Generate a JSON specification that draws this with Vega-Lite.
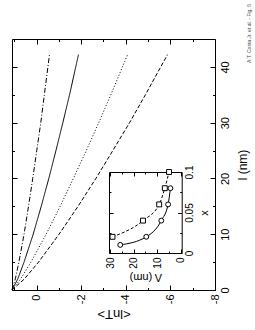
{
  "$schema": "https://vega.github.io/schema/vega-lite/v6.json",
  "width": 203,
  "height": 251,
  "autosize": "none",
  "padding": {"left": 12, "top": 39, "right": 40, "bottom": 40},
  "background": "white",
  "title": {"text": "A.T. Costa Jr. et al. - Fig. 5", "orient": "right", "anchor": "start", "angle": 270, "align": "left", "baseline": "middle", "frame": "group", "offset": -5, "dx": -24, "fontSize": 5, "fontWeight": "normal", "font": "Liberation Sans", "color": "#444"},
  "config": {
    "font": "Liberation Sans",
    "view": {"stroke": null},
    "axis": {"domainColor": "black", "tickColor": "black", "labelColor": "black", "titleColor": "black", "grid": false, "labelFlush": false, "labelOverlap": false, "labelBound": false, "titleFontWeight": "normal", "domainWidth": 1, "tickWidth": 1, "labelFont": "Liberation Sans", "titleFont": "Liberation Sans"}
  },
  "datasets": {
    "main": [
      {"s": "a", "l": 0, "lnT": 1.1}, {"s": "a", "l": 2, "lnT": 0.95}, {"s": "a", "l": 5, "lnT": 0.79}, {"s": "a", "l": 10, "lnT": 0.56}, {"s": "a", "l": 15, "lnT": 0.36}, {"s": "a", "l": 20, "lnT": 0.17}, {"s": "a", "l": 25, "lnT": -0.01}, {"s": "a", "l": 30, "lnT": -0.19}, {"s": "a", "l": 35, "lnT": -0.35}, {"s": "a", "l": 42.2, "lnT": -0.58},
      {"s": "b", "l": 0, "lnT": 1.1}, {"s": "b", "l": 2, "lnT": 0.84}, {"s": "b", "l": 5, "lnT": 0.56}, {"s": "b", "l": 10, "lnT": 0.15}, {"s": "b", "l": 15, "lnT": -0.21}, {"s": "b", "l": 20, "lnT": -0.55}, {"s": "b", "l": 25, "lnT": -0.87}, {"s": "b", "l": 30, "lnT": -1.18}, {"s": "b", "l": 35, "lnT": -1.48}, {"s": "b", "l": 42.2, "lnT": -1.88},
      {"s": "c", "l": 0, "lnT": 1.1}, {"s": "c", "l": 2, "lnT": 0.71}, {"s": "c", "l": 5, "lnT": 0.25}, {"s": "c", "l": 10, "lnT": -0.43}, {"s": "c", "l": 15, "lnT": -1.06}, {"s": "c", "l": 20, "lnT": -1.65}, {"s": "c", "l": 25, "lnT": -2.23}, {"s": "c", "l": 30, "lnT": -2.79}, {"s": "c", "l": 35, "lnT": -3.33}, {"s": "c", "l": 42.2, "lnT": -4.08},
      {"s": "d", "l": 0, "lnT": 1.1}, {"s": "d", "l": 2, "lnT": 0.54}, {"s": "d", "l": 5, "lnT": -0.09}, {"s": "d", "l": 10, "lnT": -1.01}, {"s": "d", "l": 15, "lnT": -1.86}, {"s": "d", "l": 20, "lnT": -2.66}, {"s": "d", "l": 25, "lnT": -3.42}, {"s": "d", "l": 30, "lnT": -4.17}, {"s": "d", "l": 35, "lnT": -4.88}, {"s": "d", "l": 42.2, "lnT": -5.87}
    ],
    "inset": [
      {"s": "circle", "lam": 25.7, "conc": 0.01}, {"s": "circle", "lam": 14.6, "conc": 0.02}, {"s": "circle", "lam": 8.2, "conc": 0.04}, {"s": "circle", "lam": 5.3, "conc": 0.06}, {"s": "circle", "lam": 4.3, "conc": 0.08},
      {"s": "square", "lam": 29, "conc": 0.02}, {"s": "square", "lam": 16, "conc": 0.04}, {"s": "square", "lam": 9.1, "conc": 0.06}, {"s": "square", "lam": 6.7, "conc": 0.08}, {"s": "square", "lam": 4.9, "conc": 0.1}
    ]
  },
  "resolve": {"scale": {"x": "independent", "y": "independent"}, "axis": {"x": "independent", "y": "independent"}},
  "layer": [
    {
      "data": {"name": "main"},
      "transform": [{"filter": "datum.s === 'a' || datum.s === 'b'"}],
      "mark": {"type": "line", "strokeWidth": 1, "color": "black"},
      "encoding": {
        "x": {"field": "lnT", "type": "quantitative", "scale": {"domain": [-8, 1.1], "reverse": true, "nice": false, "zero": false},
          "axis": {"orient": "bottom", "values": [-8, -7, -6, -5, -4, -3, -2, -1, 0, 1], "labelExpr": "datum.value % 2 === 0 ? '' + datum.value : ''", "labelAngle": 270, "labelAlign": "right", "labelBaseline": "middle", "labelFontSize": 11, "labelPadding": 9, "tickSize": {"condition": {"test": "datum.value % 2 === 0", "value": -5}, "value": -2.5}, "title": "<lnT>", "titleAngle": 180, "titleBaseline": "bottom", "titleFontSize": 13, "titlePadding": 3}},
        "y": {"field": "l", "type": "quantitative", "scale": {"domain": [0, 45], "nice": false, "zero": false},
          "axis": {"orient": "right", "values": [0, 5, 10, 15, 20, 25, 30, 35, 40], "labelExpr": "datum.value % 10 === 0 ? '' + datum.value : ''", "labelAngle": 270, "labelAlign": "center", "labelBaseline": "top", "labelFontSize": 11, "labelPadding": 9, "tickSize": {"condition": {"test": "datum.value % 10 === 0", "value": -5}, "value": -2.5}, "title": "l (nm)", "titleAngle": 270, "titleBaseline": "top", "titleFontSize": 12, "titlePadding": 5}},
        "strokeDash": {"field": "s", "type": "nominal", "scale": {"domain": ["a", "b", "c", "d"], "range": [[5, 2, 1, 2], [1, 0], [1, 2], [4, 2]]}, "legend": null},
        "order": {"field": "l", "type": "quantitative"}
      }
    },
    {
      "data": {"name": "main"},
      "transform": [{"filter": "datum.s === 'c' || datum.s === 'd'"}],
      "mark": {"type": "line", "strokeWidth": 1, "color": "black"},
      "encoding": {
        "x": {"field": "lnT", "type": "quantitative", "scale": {"domain": [-8, 1.1], "reverse": true, "nice": false, "zero": false},
          "axis": {"orient": "top", "values": [-8, -7, -6, -5, -4, -3, -2, -1, 0, 1], "labels": false, "title": null, "tickSize": {"condition": {"test": "datum.value % 2 === 0", "value": -5}, "value": -2.5}}},
        "y": {"field": "l", "type": "quantitative", "scale": {"domain": [0, 45], "nice": false, "zero": false},
          "axis": {"orient": "left", "values": [0, 5, 10, 15, 20, 25, 30, 35, 40], "labels": false, "title": null, "tickSize": {"condition": {"test": "datum.value % 10 === 0", "value": -5}, "value": -2.5}}},
        "strokeDash": {"field": "s", "type": "nominal", "scale": {"domain": ["a", "b", "c", "d"], "range": [[5, 2, 1, 2], [1, 0], [1, 2], [4, 2]]}, "legend": null},
        "order": {"field": "l", "type": "quantitative"}
      }
    },
    {
      "data": {"name": "inset"},
      "transform": [{"filter": "datum.s === 'circle'"}],
      "mark": {"type": "line", "strokeWidth": 1, "color": "black", "interpolate": "monotone"},
      "encoding": {
        "x": {"field": "lam", "type": "quantitative", "scale": {"domain": [-0.5, 30.5], "range": [169.7, 97], "nice": false, "zero": false},
          "axis": {"orient": "bottom", "offset": -37, "values": [0, 5, 10, 15, 20, 25, 30], "labelExpr": "datum.value % 10 === 0 ? '' + datum.value : ''", "labelAngle": 270, "labelAlign": "right", "labelBaseline": "middle", "labelFontSize": 10, "labelPadding": 8, "tickSize": {"condition": {"test": "datum.value % 10 === 0", "value": -4}, "value": -2}, "title": "Λ (nm)", "titleAngle": 180, "titleBaseline": "bottom", "titleFontSize": 11, "titlePadding": 3}},
        "y": {"field": "conc", "type": "quantitative", "scale": {"domain": [0, 0.1], "range": [214, 133], "nice": false, "zero": false},
          "axis": {"orient": "right", "offset": -33.3, "values": [0, 0.025, 0.05, 0.075, 0.1], "labelExpr": "datum.value === 0 ? '0' : datum.value === 0.05 ? '0.05' : datum.value === 0.1 ? '0.1' : ''", "labelAngle": 270, "labelAlign": "center", "labelBaseline": "top", "labelFontSize": 10, "labelPadding": 7, "tickSize": {"condition": {"test": "datum.value === 0 || datum.value === 0.05 || datum.value === 0.1", "value": -4}, "value": -2}, "title": "x", "titleAngle": 270, "titleBaseline": "top", "titleFontSize": 11, "titlePadding": 2}},
        "order": {"field": "conc", "type": "quantitative"}
      }
    },
    {
      "data": {"name": "inset"},
      "transform": [{"filter": "datum.s === 'square'"}],
      "mark": {"type": "line", "strokeWidth": 1, "color": "black", "interpolate": "monotone", "strokeDash": [3, 2]},
      "encoding": {
        "x": {"field": "lam", "type": "quantitative", "scale": {"domain": [-0.5, 30.5], "range": [169.7, 97], "nice": false, "zero": false},
          "axis": {"orient": "top", "offset": -133, "values": [0, 5, 10, 15, 20, 25, 30], "labels": false, "title": null, "tickSize": {"condition": {"test": "datum.value % 10 === 0", "value": -4}, "value": -2}}},
        "y": {"field": "conc", "type": "quantitative", "scale": {"domain": [0, 0.1], "range": [214, 133], "nice": false, "zero": false},
          "axis": {"orient": "left", "offset": -97, "values": [0, 0.025, 0.05, 0.075, 0.1], "labels": false, "title": null, "tickSize": {"condition": {"test": "datum.value === 0 || datum.value === 0.05 || datum.value === 0.1", "value": -4}, "value": -2}}},
        "order": {"field": "conc", "type": "quantitative"}
      }
    },
    {
      "data": {"name": "inset"},
      "mark": {"type": "point", "fill": "white", "stroke": "black", "strokeWidth": 1, "opacity": 1, "size": 24},
      "encoding": {
        "x": {"field": "lam", "type": "quantitative", "scale": {"domain": [-0.5, 30.5], "range": [169.7, 97], "nice": false, "zero": false}, "axis": null},
        "y": {"field": "conc", "type": "quantitative", "scale": {"domain": [0, 0.1], "range": [214, 133], "nice": false, "zero": false}, "axis": null},
        "shape": {"field": "s", "type": "nominal", "scale": {"domain": ["circle", "square"], "range": ["circle", "square"]}, "legend": null}
      }
    }
  ]
}
